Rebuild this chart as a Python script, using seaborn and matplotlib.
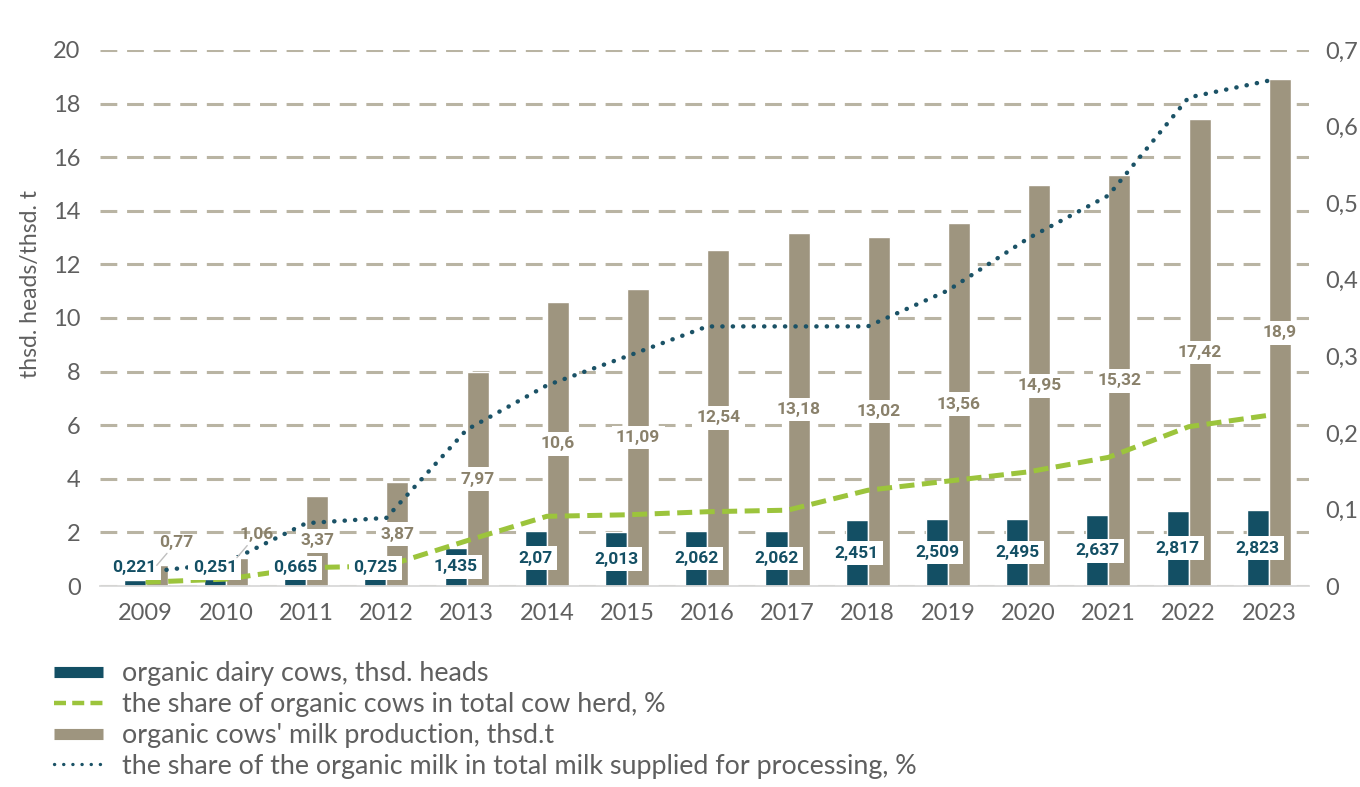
import numpy as np
import pandas as pd
import matplotlib.pyplot as plt
import seaborn as sns
from matplotlib.lines import Line2D

years = [2009, 2010, 2011, 2012, 2013, 2014, 2015, 2016,
         2017, 2018, 2019, 2020, 2021, 2022, 2023]
cows = [0.221, 0.251, 0.665, 0.725, 1.435, 2.07, 2.013, 2.062,
        2.062, 2.451, 2.509, 2.495, 2.637, 2.817, 2.823]
milk = [0.77, 1.06, 3.37, 3.87, 7.97, 10.6, 11.09, 12.54,
        13.18, 13.02, 13.56, 14.95, 15.32, 17.42, 18.9]
share_cows = [0.005, 0.009, 0.024, 0.026, 0.059, 0.091, 0.093, 0.097,
              0.099, 0.125, 0.137, 0.149, 0.168, 0.208, 0.223]
share_milk = [0.018, 0.03, 0.082, 0.089, 0.204, 0.262, 0.30, 0.339,
              0.339, 0.339, 0.386, 0.454, 0.51, 0.638, 0.66]

lbl_cows = "organic dairy cows, thsd. heads"
lbl_share_cows = "the share of organic cows in total cow herd, %"
lbl_milk = "organic cows' milk production, thsd.t"
lbl_share_milk = "the share of the organic milk in total milk supplied for processing, %"

c_dark = "#134f64"
c_gray = "#9e957f"
c_green = "#9cc43c"
c_dot = "#1b5266"
c_txt = "#5f5f5f"
c_lbl = "#8a816b"

sns.set_theme(style="white")
plt.rcParams['font.family'] = ['Lato', 'DejaVu Sans']

df = pd.DataFrame({
    'year': years * 2,
    'value': cows + milk,
    'series': [lbl_cows] * len(years) + [lbl_milk] * len(years),
})

fig = plt.figure(figsize=(13.6, 7.87), dpi=100)
ax = fig.add_axes([0.0735, 0.2554, 0.889, 0.6811])

sns.barplot(data=df, x='year', y='value', hue='series', ax=ax,
            palette=[c_dark, c_gray], width=0.55, gap=0, legend=False,
            saturation=1, zorder=2)
ax.set_ylim(0, 20)
ax.set_xlim(-0.57, 14.5)
ax.set_yticks(np.arange(0, 21, 2))
ax.yaxis.grid(True, linestyle=(0, (5.5, 3.2)), color="#b9b4a3", linewidth=2.2, zorder=0)
ax.set_axisbelow(True)
for s in ['top', 'right', 'left']:
    ax.spines[s].set_visible(False)
ax.spines['bottom'].set_color("#d9d9d9")
ax.spines['bottom'].set_linewidth(1.3)
ax.tick_params(axis='both', length=0, labelsize=17, labelcolor=c_txt)
ax.tick_params(axis='x', pad=12)
ax.tick_params(axis='y', pad=14)
ax.set_xlabel("")
ax.set_ylabel("thsd. heads/thsd. t", fontsize=16.5, color=c_txt)
ax.yaxis.set_label_coords(-0.049, 0.563)

ax2 = ax.twinx()
x = np.arange(len(years))
sns.lineplot(x=x, y=share_cows, ax=ax2, color=c_green, linewidth=3.6,
             linestyle=(0, (3, 1.5)), zorder=3)
sns.lineplot(x=x, y=share_milk, ax=ax2, color=c_dot, linewidth=3.2,
             linestyle=(0, (0.05, 2.3)), dash_capstyle='round', zorder=3)
ax2.set_ylim(0, 0.7)
ax2.set_yticks(np.arange(0, 0.71, 0.1))
ax2.set_yticklabels(["0"] + [f"{v:.1f}".replace('.', ',') for v in np.arange(0.1, 0.71, 0.1)])
for s in ['top', 'right', 'left', 'bottom']:
    ax2.spines[s].set_visible(False)
ax2.tick_params(axis='y', length=0, labelsize=17, labelcolor=c_txt, pad=12)
ax2.set_ylabel("")

bw = 0.55 / 2
fmt = lambda v: f"{v:g}".replace('.', ',')
box = dict(boxstyle="square,pad=0.25", fc="white", ec="none")
for i, (c, m) in enumerate(zip(cows, milk)):
    ax2.annotate(fmt(c), xy=(i - bw / 2, max(c / 2, 0.68)), xycoords=ax.transData,
                 ha='center', va='center', fontsize=12.5, fontweight='bold',
                 family='Roboto', color=c_dark, bbox=box, zorder=5)
    if m < 2:
        ax2.annotate(fmt(m), xy=(i + bw / 2, m), xycoords=ax.transData,
                     xytext=(14, 11), textcoords='offset points',
                     ha='center', va='bottom', fontsize=12.5, fontweight='bold',
                     family='Roboto', color=c_lbl, zorder=5,
                     arrowprops=dict(arrowstyle='-', color="#bfbfbf", lw=1,
                                     shrinkA=0, shrinkB=0))
    else:
        ax2.annotate(fmt(m), xy=(i + bw / 2, m / 2), xycoords=ax.transData,
                     ha='center', va='center', fontsize=12.5, fontweight='bold',
                     family='Roboto', color=c_lbl, bbox=box, zorder=5)

handles = [
    Line2D([0], [0], color=c_dark, linewidth=8, solid_capstyle='butt'),
    Line2D([0], [0], color=c_green, linewidth=3.2, linestyle=(0, (2.7, 1.4))),
    Line2D([0], [0], color=c_gray, linewidth=8, solid_capstyle='butt'),
    Line2D([0], [0], color=c_dot, linewidth=2.4, linestyle=(0, (0.05, 2.7)),
           dash_capstyle='round'),
]
fig.legend(handles, [lbl_cows, lbl_share_cows, lbl_milk, lbl_share_milk],
           loc='upper left', bbox_to_anchor=(0.04, 0.16), frameon=False,
           fontsize=19.4, labelcolor=c_txt, handlelength=1.8,
           handletextpad=0.72, labelspacing=0.22, borderaxespad=0, borderpad=0)

fig.savefig("out.png", dpi=100)
